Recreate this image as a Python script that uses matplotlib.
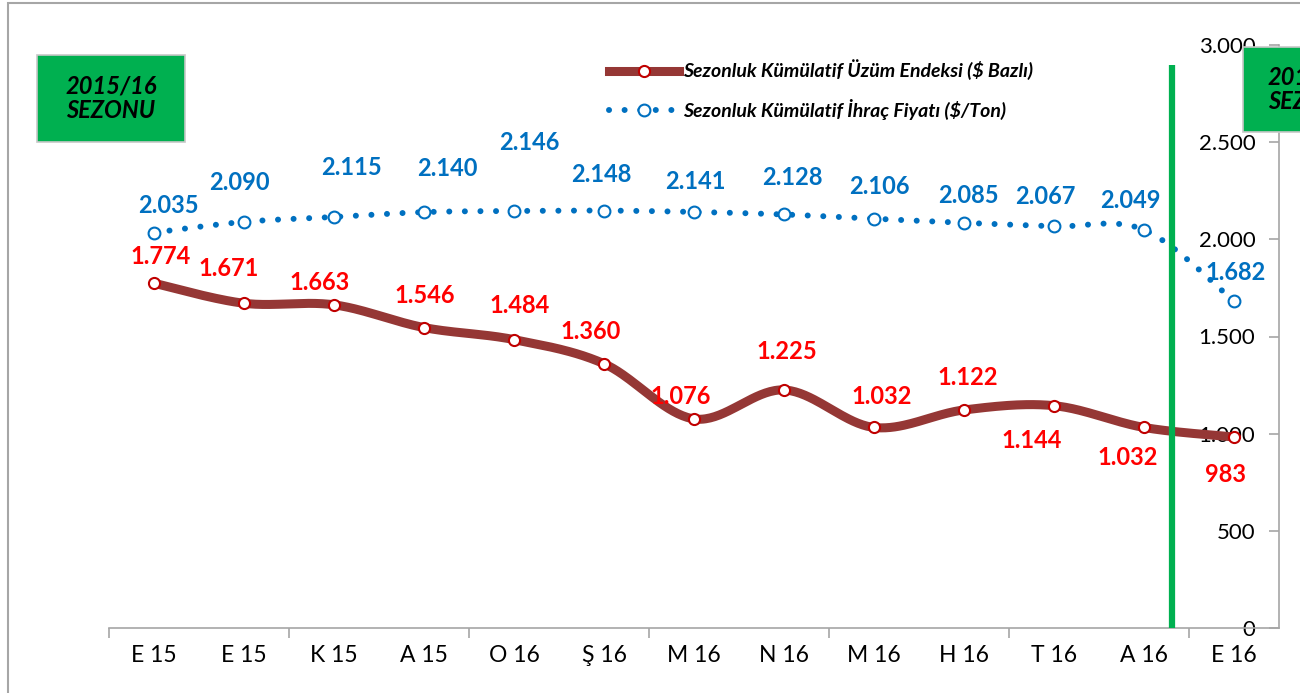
import numpy as np
import matplotlib
matplotlib.use("Agg")
import matplotlib.pyplot as plt
from matplotlib.patches import Rectangle
from matplotlib.ticker import FuncFormatter, FixedLocator
from matplotlib.lines import Line2D

plt.rcParams['font.family'] = ['Lato', 'DejaVu Sans']

categories = ["E 15", "E 15", "K 15", "A 15", "O 16", "Ş 16", "M 16",
              "N 16", "M 16", "H 16", "T 16", "A 16", "E 16"]
grape_index = [1774, 1671, 1663, 1546, 1484, 1360, 1076, 1225, 1032, 1122, 1144, 1032, 983]
export_price = [2035, 2090, 2115, 2140, 2146, 2148, 2141, 2128, 2106, 2085, 2067, 2049, 1682]
series_names = ["Sezonluk Kümülatif Üzüm Endeksi ($ Bazlı)",
                "Sezonluk Kümülatif İhraç Fiyatı ($/Ton)"]
y_ticks = [0, 500, 1000, 1500, 2000, 2500, 3000]

# label offsets in pixels (style)
red_off = [(7, 27), (-15, 35), (-14, 22), (1, 32), (6, 34), (-13, 32), (-13, 22),
           (3, 38), (8, 31), (4, 32), (-22, -35), (-16, -30), (-8, -38)]
blue_off = [(14, 27), (-5, 39), (17, 49), (23, 44), (15, 68), (-3, 36), (1, 30),
            (8, 37), (5, 32), (4, 27), (-9, 30), (-14, 29), (2, 29)]


def fmt_tr(v):
    return f"{int(round(v)):,}".replace(",", ".")


def smooth(xs, ys, n=40):
    xs = np.asarray(xs, float)
    ys = np.asarray(ys, float)
    P = np.column_stack([xs, ys])
    out = [P[0]]
    t = np.linspace(0, 1, n)[1:]
    for i in range(len(P) - 1):
        p0 = P[i - 1] if i > 0 else P[i]
        p1 = P[i]
        p2 = P[i + 1]
        p3 = P[i + 2] if i + 2 < len(P) else P[i + 1]
        c1 = p1 + (p2 - p0) / 6.0
        c2 = p2 - (p3 - p1) / 6.0
        seg = ((1 - t) ** 3)[:, None] * p1 + (3 * (1 - t) ** 2 * t)[:, None] * c1 \
            + (3 * (1 - t) * t ** 2)[:, None] * c2 + (t ** 3)[:, None] * p2
        out.extend(seg)
    out = np.array(out)
    return out[:, 0], out[:, 1]


W, H = 1300, 693
fig = plt.figure(figsize=(13, 6.93), dpi=100)
ax = fig.add_axes([109 / W, (H - 628) / H, 1170 / W, 583 / H])

x = np.arange(len(categories))
red_line = "#953735"
red_edge = "#C00000"
blue = "#0070C0"
dot_style = (0, (0.01, 2.6))

# blue dotted line
bx, by = smooth(x, export_price)
ax.plot(bx, by, color=blue, lw=4.3, linestyle=dot_style,
        dash_capstyle='round', zorder=3)
ax.plot(x, export_price, linestyle='none', marker='o', ms=8.5, mfc='white',
        mec=blue, mew=1.5, zorder=4)

# red smooth line
rx, ry = smooth(x, grape_index)
ax.plot(rx, ry, color=red_line, lw=6.5, solid_capstyle='round', zorder=3)
ax.plot(x, grape_index, linestyle='none', marker='o', ms=8, mfc='white',
        mec=red_edge, mew=1.5, zorder=4)

for xi, v, (dx, dy) in zip(x, grape_index, red_off):
    ax.annotate(fmt_tr(v), (xi, v), xytext=(dx * 0.72, dy * 0.72),
                textcoords='offset points', ha='center', va='center',
                color='#FF0000', fontsize=17, fontweight='bold', zorder=6)
for xi, v, (dx, dy) in zip(x, export_price, blue_off):
    ax.annotate(fmt_tr(v), (xi, v), xytext=(dx * 0.72, dy * 0.72),
                textcoords='offset points', ha='center', va='center',
                color=blue, fontsize=17, fontweight='bold', zorder=6)

# green season separator
ax.plot([11.31, 11.31], [0, 2897], color="#00B050", lw=4.5, zorder=5,
        clip_on=False, solid_capstyle='butt')

ax.set_xlim(-0.5, len(categories) - 0.5)
ax.set_ylim(0, 3000)

for s in ['left', 'top']:
    ax.spines[s].set_visible(False)
for s in ['right', 'bottom']:
    ax.spines[s].set_color('#A6A6A6')
    ax.spines[s].set_linewidth(1.2)

ax.set_xticks(x)
ax.set_xticklabels(categories, fontsize=16.5)
ax.tick_params(axis='x', which='major', length=0, pad=12)
ax.xaxis.set_minor_locator(FixedLocator(np.arange(-0.5, len(categories) - 1, 2)))
ax.tick_params(axis='x', which='minor', length=7, color='#A6A6A6', width=1.2)

ax.yaxis.tick_right()
ax.set_yticks(y_ticks)
ax.yaxis.set_major_formatter(FuncFormatter(lambda v, p: fmt_tr(v)))
ax.tick_params(axis='y', direction='in', length=7, color='#A6A6A6', width=1.2,
               pad=-17, labelsize=16)
for lab in ax.get_yticklabels():
    lab.set_horizontalalignment('right')

# legend
h1 = Line2D([], [], color=red_line, lw=6.5, marker='o', ms=8, mfc='white',
            mec=red_edge, mew=1.5)
h2 = Line2D([], [], color=blue, lw=4.3, linestyle=dot_style,
            dash_capstyle='round', marker='o', ms=8.5, mfc='white', mec=blue, mew=1.5)
leg = fig.legend([h1, h2], series_names, loc='upper left',
                 bbox_to_anchor=(591 / W, 1 - 42 / H), frameon=False,
                 prop={'size': 14, 'weight': 'bold', 'style': 'italic'},
                 handlelength=3.6, handletextpad=0.25, labelspacing=0.95)

# outer frame
fig.patches.append(Rectangle((8 / W, -0.05), 1.2, 1 - 3 / H + 0.05,
                             transform=fig.transFigure, fill=False,
                             edgecolor='#A6A6A6', lw=1.5))

# season boxes
for (bx0, by0, bw, bh, txt) in [(37, 55, 148, 87, "2015/16\nSEZONU"),
                                (1243, 47, 140, 85, "2016/17\nSEZONU")]:
    fig.patches.append(Rectangle((bx0 / W, 1 - (by0 + bh) / H), bw / W, bh / H,
                                 transform=fig.transFigure, facecolor="#00B050",
                                 edgecolor='#C8C8C8', lw=1.2, zorder=10))
    fig.text((bx0 + bw / 2) / W, 1 - (by0 + bh / 2) / H, txt, ha='center',
             va='center', fontsize=17, fontweight='bold', style='italic',
             color='black', linespacing=1.1, zorder=11)

fig.savefig("out.png", dpi=100)
